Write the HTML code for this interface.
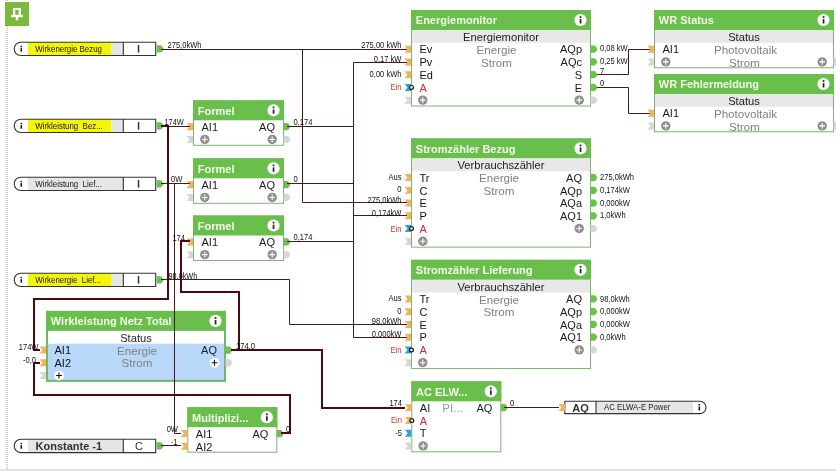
<!DOCTYPE html>
<html><head><meta charset="utf-8"><style>
html,body{margin:0;padding:0;background:#fff;width:836px;height:471px;overflow:hidden}
svg{position:absolute;left:0;top:0;font-family:"Liberation Sans", sans-serif;will-change:transform}
</style></head><body>
<svg width="836" height="471" viewBox="0 0 836 471">
<rect x="0" y="0" width="836" height="471" fill="#fff"/>
<line x1="7" y1="0" x2="7" y2="469" stroke="#cccccc" stroke-width="2" stroke-dasharray="1,1"/>
<rect x="0" y="469" width="836" height="2" fill="#e2e2e2"/>
<rect x="5" y="2" width="24" height="24" fill="#7dba3c"/>
<path d="M12,11 H22 V16.5 H12 Z M14.5,11 V8 H19.5 V11" fill="none"/>
<rect x="13" y="8" width="8" height="7.2" fill="#fff"/>
<rect x="15.2" y="9.8" width="3.4" height="5" fill="#7dba3c"/>
<rect x="11" y="15" width="12" height="2.2" fill="#fff"/>
<rect x="15.8" y="17" width="2.4" height="3.2" fill="#fff"/>
<rect x="411.5" y="10.5" width="179" height="95.5" fill="#fff" stroke="#7fb374" stroke-width="1"/><rect x="411" y="10" width="180" height="20" fill="#6abf4c"/><text x="415.80" y="20.30" font-size="11" fill="#f3fbe8" font-weight="bold" text-anchor="start" dominant-baseline="central" >Energiemonitor</text><circle cx="580.5" cy="20" r="6.1" fill="#fff"/><rect x="579.7" y="19.1" width="1.7" height="4.4" fill="#222"/><rect x="579.7" y="16.2" width="1.7" height="1.8" fill="#222"/><rect x="412" y="30" width="178" height="12.75" fill="#e8e8e8"/><text x="501.00" y="36.88" font-size="11.2" fill="#222" font-weight="normal" text-anchor="middle" dominant-baseline="central" >Energiemonitor</text><text x="419.50" y="49.42" font-size="11" fill="#111" font-weight="normal" text-anchor="start" dominant-baseline="central" >Ev</text><text x="582.00" y="49.42" font-size="11" fill="#1a1a1a" font-weight="normal" text-anchor="end" dominant-baseline="central" >AQp</text><text x="419.50" y="62.17" font-size="11" fill="#111" font-weight="normal" text-anchor="start" dominant-baseline="central" >Pv</text><text x="582.00" y="62.17" font-size="11" fill="#1a1a1a" font-weight="normal" text-anchor="end" dominant-baseline="central" >AQc</text><text x="419.50" y="74.92" font-size="11" fill="#111" font-weight="normal" text-anchor="start" dominant-baseline="central" >Ed</text><text x="582.00" y="74.92" font-size="11" fill="#1a1a1a" font-weight="normal" text-anchor="end" dominant-baseline="central" >S</text><text x="419.50" y="87.67" font-size="11" fill="#d42a2a" font-weight="normal" text-anchor="start" dominant-baseline="central" >A</text><text x="582.00" y="87.67" font-size="11" fill="#1a1a1a" font-weight="normal" text-anchor="end" dominant-baseline="central" >E</text><text x="496.50" y="49.42" font-size="11.6" fill="#808080" font-weight="normal" text-anchor="middle" dominant-baseline="central" >Energie</text><text x="496.50" y="62.17" font-size="11.6" fill="#808080" font-weight="normal" text-anchor="middle" dominant-baseline="central" >Strom</text><polygon points="404.5,45.625 411,45.625 411,52.625 404.5,52.625 407.5,49.125" fill="#f2b257"/><path d="M590.5,45.525 L594,45.525 Q595.2,45.525 596,46.725 L597,48.325 Q597.5,49.125 597,49.925 L596,51.525 Q595.2,52.725 594,52.725 L590.5,52.725 Z" fill="#6cc04f"/><polygon points="404.5,58.375 411,58.375 411,65.375 404.5,65.375 407.5,61.875" fill="#f2b257"/><path d="M590.5,58.275 L594,58.275 Q595.2,58.275 596,59.475 L597,61.075 Q597.5,61.875 597,62.675 L596,64.275 Q595.2,65.475 594,65.475 L590.5,65.475 Z" fill="#6cc04f"/><polygon points="404.5,71.125 411,71.125 411,78.125 404.5,78.125 407.5,74.625" fill="#f2b257"/><path d="M590.5,71.025 L594,71.025 Q595.2,71.025 596,72.225 L597,73.825 Q597.5,74.625 597,75.425 L596,77.025 Q595.2,78.225 594,78.225 L590.5,78.225 Z" fill="#6cc04f"/><polygon points="404.5,83.875 411,83.875 411,90.875 404.5,90.875 407.5,87.375" fill="#29a6d6"/><path d="M590.5,83.775 L594,83.775 Q595.2,83.775 596,84.975 L597,86.575 Q597.5,87.375 597,88.175 L596,89.775 Q595.2,90.975 594,90.975 L590.5,90.975 Z" fill="#6cc04f"/><polygon points="404.5,96.625 411,96.625 411,103.625 404.5,103.625 407.5,100.125" fill="#d6d6d6"/><path d="M590.5,96.525 L594,96.525 Q595.2,96.525 596,97.725 L597,99.325 Q597.5,100.125 597,100.925 L596,102.525 Q595.2,103.725 594,103.725 L590.5,103.725 Z" fill="#d6d6d6"/><circle cx="422.8" cy="100.125" r="4.7" fill="#8e8e8e"/><path d="M419.98,100.125 H425.62 M422.8,97.305 V102.945" stroke="#fff" stroke-width="1.1"/><circle cx="579.2" cy="100.125" r="4.7" fill="#8e8e8e"/><path d="M576.38,100.125 H582.0200000000001 M579.2,97.305 V102.945" stroke="#fff" stroke-width="1.1"/><rect x="654.5" y="10.5" width="179" height="57.25" fill="#fff" stroke="#7fb374" stroke-width="1"/><rect x="654" y="10" width="180" height="20" fill="#6abf4c"/><text x="658.80" y="20.30" font-size="11" fill="#f3fbe8" font-weight="bold" text-anchor="start" dominant-baseline="central" >WR Status</text><circle cx="823.5" cy="20" r="6.1" fill="#fff"/><rect x="822.7" y="19.1" width="1.7" height="4.4" fill="#222"/><rect x="822.7" y="16.2" width="1.7" height="1.8" fill="#222"/><rect x="655" y="30" width="178" height="12.75" fill="#e8e8e8"/><text x="744.00" y="36.88" font-size="11.2" fill="#222" font-weight="normal" text-anchor="middle" dominant-baseline="central" >Status</text><text x="662.50" y="49.42" font-size="11" fill="#1a1a1a" font-weight="normal" text-anchor="start" dominant-baseline="central" >AI1</text><text x="745.50" y="49.42" font-size="11.6" fill="#808080" font-weight="normal" text-anchor="middle" dominant-baseline="central" >Photovoltaik</text><text x="744.50" y="62.17" font-size="11.6" fill="#808080" font-weight="normal" text-anchor="middle" dominant-baseline="central" >Strom</text><polygon points="647.5,45.625 654,45.625 654,52.625 647.5,52.625 650.5,49.125" fill="#f2b257"/><polygon points="647.5,58.375 654,58.375 654,65.375 647.5,65.375 650.5,61.875" fill="#d6d6d6"/><path d="M833.5,58.275 L837,58.275 Q838.2,58.275 839,59.475 L840,61.075 Q840.5,61.875 840,62.675 L839,64.275 Q838.2,65.475 837,65.475 L833.5,65.475 Z" fill="#d6d6d6"/><circle cx="665.8" cy="61.875" r="4.7" fill="#8e8e8e"/><path d="M662.9799999999999,61.875 H668.62 M665.8,59.055 V64.695" stroke="#fff" stroke-width="1.1"/><circle cx="822.2" cy="61.875" r="4.7" fill="#8e8e8e"/><path d="M819.38,61.875 H825.0200000000001 M822.2,59.055 V64.695" stroke="#fff" stroke-width="1.1"/><rect x="654.5" y="74.5" width="179" height="57.25" fill="#fff" stroke="#7fb374" stroke-width="1"/><rect x="654" y="74" width="180" height="20" fill="#6abf4c"/><text x="658.80" y="84.30" font-size="11" fill="#f3fbe8" font-weight="bold" text-anchor="start" dominant-baseline="central" >WR Fehlermeldung</text><circle cx="823.5" cy="84" r="6.1" fill="#fff"/><rect x="822.7" y="83.1" width="1.7" height="4.4" fill="#222"/><rect x="822.7" y="80.2" width="1.7" height="1.8" fill="#222"/><rect x="655" y="94" width="178" height="12.75" fill="#e8e8e8"/><text x="744.00" y="100.88" font-size="11.2" fill="#222" font-weight="normal" text-anchor="middle" dominant-baseline="central" >Status</text><text x="662.50" y="113.42" font-size="11" fill="#1a1a1a" font-weight="normal" text-anchor="start" dominant-baseline="central" >AI1</text><text x="745.50" y="113.42" font-size="11.6" fill="#808080" font-weight="normal" text-anchor="middle" dominant-baseline="central" >Photovoltaik</text><text x="744.50" y="126.17" font-size="11.6" fill="#808080" font-weight="normal" text-anchor="middle" dominant-baseline="central" >Strom</text><polygon points="647.5,109.625 654,109.625 654,116.625 647.5,116.625 650.5,113.125" fill="#f2b257"/><polygon points="647.5,122.375 654,122.375 654,129.375 647.5,129.375 650.5,125.875" fill="#d6d6d6"/><path d="M833.5,122.275 L837,122.275 Q838.2,122.275 839,123.475 L840,125.075 Q840.5,125.875 840,126.675 L839,128.275 Q838.2,129.475 837,129.475 L833.5,129.475 Z" fill="#d6d6d6"/><circle cx="665.8" cy="125.875" r="4.7" fill="#8e8e8e"/><path d="M662.9799999999999,125.875 H668.62 M665.8,123.055 V128.695" stroke="#fff" stroke-width="1.1"/><circle cx="822.2" cy="125.875" r="4.7" fill="#8e8e8e"/><path d="M819.38,125.875 H825.0200000000001 M822.2,123.055 V128.695" stroke="#fff" stroke-width="1.1"/><rect x="193.5" y="100.8" width="90" height="44.5" fill="#fff" stroke="#7fb374" stroke-width="1"/><rect x="193" y="100.3" width="91" height="20" fill="#6abf4c"/><text x="197.80" y="110.60" font-size="11" fill="#f3fbe8" font-weight="bold" text-anchor="start" dominant-baseline="central" >Formel</text><circle cx="273.5" cy="110.3" r="6.1" fill="#fff"/><rect x="272.7" y="109.39999999999999" width="1.7" height="4.4" fill="#222"/><rect x="272.7" y="106.5" width="1.7" height="1.8" fill="#222"/><text x="201.50" y="126.97" font-size="11" fill="#1a1a1a" font-weight="normal" text-anchor="start" dominant-baseline="central" >AI1</text><text x="275.00" y="126.97" font-size="11" fill="#1a1a1a" font-weight="normal" text-anchor="end" dominant-baseline="central" >AQ</text><polygon points="186.5,123.175 193,123.175 193,130.175 186.5,130.175 189.5,126.675" fill="#f2b257"/><path d="M283.5,123.075 L287,123.075 Q288.2,123.075 289,124.27499999999999 L290,125.875 Q290.5,126.675 290,127.475 L289,129.075 Q288.2,130.275 287,130.275 L283.5,130.275 Z" fill="#6cc04f"/><polygon points="186.5,135.925 193,135.925 193,142.925 186.5,142.925 189.5,139.425" fill="#d6d6d6"/><path d="M283.5,135.82500000000002 L287,135.82500000000002 Q288.2,135.82500000000002 289,137.025 L290,138.625 Q290.5,139.425 290,140.22500000000002 L289,141.82500000000002 Q288.2,143.025 287,143.025 L283.5,143.025 Z" fill="#d6d6d6"/><circle cx="204.8" cy="139.425" r="4.7" fill="#8e8e8e"/><path d="M201.98000000000002,139.425 H207.62 M204.8,136.60500000000002 V142.245" stroke="#fff" stroke-width="1.1"/><circle cx="272.2" cy="139.425" r="4.7" fill="#8e8e8e"/><path d="M269.38,139.425 H275.02 M272.2,136.60500000000002 V142.245" stroke="#fff" stroke-width="1.1"/><rect x="193.5" y="158.8" width="90" height="44.5" fill="#fff" stroke="#7fb374" stroke-width="1"/><rect x="193" y="158.3" width="91" height="20" fill="#6abf4c"/><text x="197.80" y="168.60" font-size="11" fill="#f3fbe8" font-weight="bold" text-anchor="start" dominant-baseline="central" >Formel</text><circle cx="273.5" cy="168.3" r="6.1" fill="#fff"/><rect x="272.7" y="167.4" width="1.7" height="4.4" fill="#222"/><rect x="272.7" y="164.5" width="1.7" height="1.8" fill="#222"/><text x="201.50" y="184.98" font-size="11" fill="#1a1a1a" font-weight="normal" text-anchor="start" dominant-baseline="central" >AI1</text><text x="275.00" y="184.98" font-size="11" fill="#1a1a1a" font-weight="normal" text-anchor="end" dominant-baseline="central" >AQ</text><polygon points="186.5,181.175 193,181.175 193,188.175 186.5,188.175 189.5,184.675" fill="#f2b257"/><path d="M283.5,181.07500000000002 L287,181.07500000000002 Q288.2,181.07500000000002 289,182.275 L290,183.875 Q290.5,184.675 290,185.47500000000002 L289,187.07500000000002 Q288.2,188.275 287,188.275 L283.5,188.275 Z" fill="#6cc04f"/><polygon points="186.5,193.925 193,193.925 193,200.925 186.5,200.925 189.5,197.425" fill="#d6d6d6"/><path d="M283.5,193.82500000000002 L287,193.82500000000002 Q288.2,193.82500000000002 289,195.025 L290,196.625 Q290.5,197.425 290,198.22500000000002 L289,199.82500000000002 Q288.2,201.025 287,201.025 L283.5,201.025 Z" fill="#d6d6d6"/><circle cx="204.8" cy="197.425" r="4.7" fill="#8e8e8e"/><path d="M201.98000000000002,197.425 H207.62 M204.8,194.60500000000002 V200.245" stroke="#fff" stroke-width="1.1"/><circle cx="272.2" cy="197.425" r="4.7" fill="#8e8e8e"/><path d="M269.38,197.425 H275.02 M272.2,194.60500000000002 V200.245" stroke="#fff" stroke-width="1.1"/><rect x="193.5" y="216.0" width="90" height="44.5" fill="#fff" stroke="#7fb374" stroke-width="1"/><rect x="193" y="215.5" width="91" height="20" fill="#6abf4c"/><text x="197.80" y="225.80" font-size="11" fill="#f3fbe8" font-weight="bold" text-anchor="start" dominant-baseline="central" >Formel</text><circle cx="273.5" cy="225.5" r="6.1" fill="#fff"/><rect x="272.7" y="224.6" width="1.7" height="4.4" fill="#222"/><rect x="272.7" y="221.7" width="1.7" height="1.8" fill="#222"/><text x="201.50" y="242.18" font-size="11" fill="#1a1a1a" font-weight="normal" text-anchor="start" dominant-baseline="central" >AI1</text><text x="275.00" y="242.18" font-size="11" fill="#1a1a1a" font-weight="normal" text-anchor="end" dominant-baseline="central" >AQ</text><polygon points="186.5,238.375 193,238.375 193,245.375 186.5,245.375 189.5,241.875" fill="#f2b257"/><path d="M283.5,238.275 L287,238.275 Q288.2,238.275 289,239.475 L290,241.075 Q290.5,241.875 290,242.675 L289,244.275 Q288.2,245.475 287,245.475 L283.5,245.475 Z" fill="#6cc04f"/><polygon points="186.5,251.125 193,251.125 193,258.125 186.5,258.125 189.5,254.625" fill="#d6d6d6"/><path d="M283.5,251.025 L287,251.025 Q288.2,251.025 289,252.225 L290,253.825 Q290.5,254.625 290,255.425 L289,257.025 Q288.2,258.225 287,258.225 L283.5,258.225 Z" fill="#d6d6d6"/><circle cx="204.8" cy="254.625" r="4.7" fill="#8e8e8e"/><path d="M201.98000000000002,254.625 H207.62 M204.8,251.805 V257.445" stroke="#fff" stroke-width="1.1"/><circle cx="272.2" cy="254.625" r="4.7" fill="#8e8e8e"/><path d="M269.38,254.625 H275.02 M272.2,251.805 V257.445" stroke="#fff" stroke-width="1.1"/><rect x="411.5" y="138.9" width="179" height="108.25" fill="#fff" stroke="#7fb374" stroke-width="1"/><rect x="411" y="138.4" width="180" height="20" fill="#6abf4c"/><text x="415.80" y="148.70" font-size="11" fill="#f3fbe8" font-weight="bold" text-anchor="start" dominant-baseline="central" >Stromzähler Bezug</text><circle cx="580.5" cy="148.4" r="6.1" fill="#fff"/><rect x="579.7" y="147.5" width="1.7" height="4.4" fill="#222"/><rect x="579.7" y="144.6" width="1.7" height="1.8" fill="#222"/><rect x="412" y="158.4" width="178" height="12.75" fill="#e8e8e8"/><text x="501.00" y="165.28" font-size="11.2" fill="#222" font-weight="normal" text-anchor="middle" dominant-baseline="central" >Verbrauchszähler</text><text x="419.50" y="177.83" font-size="11" fill="#111" font-weight="normal" text-anchor="start" dominant-baseline="central" >Tr</text><text x="582.00" y="177.83" font-size="11" fill="#1a1a1a" font-weight="normal" text-anchor="end" dominant-baseline="central" >AQ</text><text x="419.50" y="190.58" font-size="11" fill="#111" font-weight="normal" text-anchor="start" dominant-baseline="central" >C</text><text x="582.00" y="190.58" font-size="11" fill="#1a1a1a" font-weight="normal" text-anchor="end" dominant-baseline="central" >AQp</text><text x="419.50" y="203.33" font-size="11" fill="#111" font-weight="normal" text-anchor="start" dominant-baseline="central" >E</text><text x="582.00" y="203.33" font-size="11" fill="#1a1a1a" font-weight="normal" text-anchor="end" dominant-baseline="central" >AQa</text><text x="419.50" y="216.08" font-size="11" fill="#111" font-weight="normal" text-anchor="start" dominant-baseline="central" >P</text><text x="582.00" y="216.08" font-size="11" fill="#1a1a1a" font-weight="normal" text-anchor="end" dominant-baseline="central" >AQ1</text><text x="419.50" y="228.83" font-size="11" fill="#d42a2a" font-weight="normal" text-anchor="start" dominant-baseline="central" >A</text><text x="499.00" y="177.83" font-size="11.6" fill="#808080" font-weight="normal" text-anchor="middle" dominant-baseline="central" >Energie</text><text x="499.00" y="190.58" font-size="11.6" fill="#808080" font-weight="normal" text-anchor="middle" dominant-baseline="central" >Strom</text><polygon points="404.5,174.025 411,174.025 411,181.025 404.5,181.025 407.5,177.525" fill="#f2b257"/><path d="M590.5,173.925 L594,173.925 Q595.2,173.925 596,175.125 L597,176.725 Q597.5,177.525 597,178.32500000000002 L596,179.925 Q595.2,181.125 594,181.125 L590.5,181.125 Z" fill="#6cc04f"/><polygon points="404.5,186.775 411,186.775 411,193.775 404.5,193.775 407.5,190.275" fill="#f2b257"/><path d="M590.5,186.675 L594,186.675 Q595.2,186.675 596,187.875 L597,189.475 Q597.5,190.275 597,191.07500000000002 L596,192.675 Q595.2,193.875 594,193.875 L590.5,193.875 Z" fill="#6cc04f"/><polygon points="404.5,199.525 411,199.525 411,206.525 404.5,206.525 407.5,203.025" fill="#f2b257"/><path d="M590.5,199.425 L594,199.425 Q595.2,199.425 596,200.625 L597,202.225 Q597.5,203.025 597,203.82500000000002 L596,205.425 Q595.2,206.625 594,206.625 L590.5,206.625 Z" fill="#6cc04f"/><polygon points="404.5,212.275 411,212.275 411,219.275 404.5,219.275 407.5,215.775" fill="#f2b257"/><path d="M590.5,212.175 L594,212.175 Q595.2,212.175 596,213.375 L597,214.975 Q597.5,215.775 597,216.57500000000002 L596,218.175 Q595.2,219.375 594,219.375 L590.5,219.375 Z" fill="#6cc04f"/><polygon points="404.5,225.025 411,225.025 411,232.025 404.5,232.025 407.5,228.525" fill="#29a6d6"/><path d="M590.5,224.925 L594,224.925 Q595.2,224.925 596,226.125 L597,227.725 Q597.5,228.525 597,229.32500000000002 L596,230.925 Q595.2,232.125 594,232.125 L590.5,232.125 Z" fill="#d6d6d6"/><circle cx="579.2" cy="228.525" r="4.7" fill="#8e8e8e"/><path d="M576.38,228.525 H582.0200000000001 M579.2,225.705 V231.345" stroke="#fff" stroke-width="1.1"/><polygon points="404.5,237.775 411,237.775 411,244.775 404.5,244.775 407.5,241.275" fill="#d6d6d6"/><circle cx="422.8" cy="241.275" r="4.7" fill="#8e8e8e"/><path d="M419.98,241.275 H425.62 M422.8,238.455 V244.095" stroke="#fff" stroke-width="1.1"/><rect x="411.5" y="260.3" width="179" height="108.25" fill="#fff" stroke="#7fb374" stroke-width="1"/><rect x="411" y="259.8" width="180" height="20" fill="#6abf4c"/><text x="415.80" y="270.10" font-size="11" fill="#f3fbe8" font-weight="bold" text-anchor="start" dominant-baseline="central" >Stromzähler Lieferung</text><circle cx="580.5" cy="269.8" r="6.1" fill="#fff"/><rect x="579.7" y="268.90000000000003" width="1.7" height="4.4" fill="#222"/><rect x="579.7" y="266.0" width="1.7" height="1.8" fill="#222"/><rect x="412" y="279.8" width="178" height="12.75" fill="#e8e8e8"/><text x="501.00" y="286.68" font-size="11.2" fill="#222" font-weight="normal" text-anchor="middle" dominant-baseline="central" >Verbrauchszähler</text><text x="419.50" y="299.23" font-size="11" fill="#111" font-weight="normal" text-anchor="start" dominant-baseline="central" >Tr</text><text x="582.00" y="299.23" font-size="11" fill="#1a1a1a" font-weight="normal" text-anchor="end" dominant-baseline="central" >AQ</text><text x="419.50" y="311.98" font-size="11" fill="#111" font-weight="normal" text-anchor="start" dominant-baseline="central" >C</text><text x="582.00" y="311.98" font-size="11" fill="#1a1a1a" font-weight="normal" text-anchor="end" dominant-baseline="central" >AQp</text><text x="419.50" y="324.73" font-size="11" fill="#111" font-weight="normal" text-anchor="start" dominant-baseline="central" >E</text><text x="582.00" y="324.73" font-size="11" fill="#1a1a1a" font-weight="normal" text-anchor="end" dominant-baseline="central" >AQa</text><text x="419.50" y="337.48" font-size="11" fill="#111" font-weight="normal" text-anchor="start" dominant-baseline="central" >P</text><text x="582.00" y="337.48" font-size="11" fill="#1a1a1a" font-weight="normal" text-anchor="end" dominant-baseline="central" >AQ1</text><text x="419.50" y="350.23" font-size="11" fill="#d42a2a" font-weight="normal" text-anchor="start" dominant-baseline="central" >A</text><text x="499.00" y="299.23" font-size="11.6" fill="#808080" font-weight="normal" text-anchor="middle" dominant-baseline="central" >Energie</text><text x="499.00" y="311.98" font-size="11.6" fill="#808080" font-weight="normal" text-anchor="middle" dominant-baseline="central" >Strom</text><polygon points="404.5,295.425 411,295.425 411,302.425 404.5,302.425 407.5,298.925" fill="#f2b257"/><path d="M590.5,295.325 L594,295.325 Q595.2,295.325 596,296.52500000000003 L597,298.125 Q597.5,298.925 597,299.725 L596,301.325 Q595.2,302.52500000000003 594,302.52500000000003 L590.5,302.52500000000003 Z" fill="#6cc04f"/><polygon points="404.5,308.175 411,308.175 411,315.175 404.5,315.175 407.5,311.675" fill="#f2b257"/><path d="M590.5,308.075 L594,308.075 Q595.2,308.075 596,309.27500000000003 L597,310.875 Q597.5,311.675 597,312.475 L596,314.075 Q595.2,315.27500000000003 594,315.27500000000003 L590.5,315.27500000000003 Z" fill="#6cc04f"/><polygon points="404.5,320.925 411,320.925 411,327.925 404.5,327.925 407.5,324.425" fill="#f2b257"/><path d="M590.5,320.825 L594,320.825 Q595.2,320.825 596,322.02500000000003 L597,323.625 Q597.5,324.425 597,325.225 L596,326.825 Q595.2,328.02500000000003 594,328.02500000000003 L590.5,328.02500000000003 Z" fill="#6cc04f"/><polygon points="404.5,333.675 411,333.675 411,340.675 404.5,340.675 407.5,337.175" fill="#f2b257"/><path d="M590.5,333.575 L594,333.575 Q595.2,333.575 596,334.77500000000003 L597,336.375 Q597.5,337.175 597,337.975 L596,339.575 Q595.2,340.77500000000003 594,340.77500000000003 L590.5,340.77500000000003 Z" fill="#6cc04f"/><polygon points="404.5,346.425 411,346.425 411,353.425 404.5,353.425 407.5,349.925" fill="#29a6d6"/><path d="M590.5,346.325 L594,346.325 Q595.2,346.325 596,347.52500000000003 L597,349.125 Q597.5,349.925 597,350.725 L596,352.325 Q595.2,353.52500000000003 594,353.52500000000003 L590.5,353.52500000000003 Z" fill="#d6d6d6"/><circle cx="579.2" cy="349.925" r="4.7" fill="#8e8e8e"/><path d="M576.38,349.925 H582.0200000000001 M579.2,347.105 V352.745" stroke="#fff" stroke-width="1.1"/><polygon points="404.5,359.175 411,359.175 411,366.175 404.5,366.175 407.5,362.675" fill="#d6d6d6"/><circle cx="422.8" cy="362.675" r="4.7" fill="#8e8e8e"/><path d="M419.98,362.675 H425.62 M422.8,359.855 V365.495" stroke="#fff" stroke-width="1.1"/><rect x="47.0" y="311.9" width="178" height="69.0" fill="#b9d8f9" stroke="#70b866" stroke-width="2"/><rect x="46" y="310.9" width="180" height="20" fill="#6abf4c"/><text x="50.80" y="320.90" font-size="11" fill="#f3fbe8" font-weight="bold" text-anchor="start" dominant-baseline="central" >Wirkleistung Netz Total</text><circle cx="215.5" cy="320.9" r="6.1" fill="#fff"/><rect x="214.7" y="320.0" width="1.7" height="4.4" fill="#222"/><rect x="214.7" y="317.09999999999997" width="1.7" height="1.8" fill="#222"/><rect x="48" y="330.9" width="176" height="12.75" fill="#ffffff"/><text x="136.00" y="337.77" font-size="11.2" fill="#222" font-weight="normal" text-anchor="middle" dominant-baseline="central" >Status</text><text x="54.50" y="350.32" font-size="11" fill="#111" font-weight="normal" text-anchor="start" dominant-baseline="central" >AI1</text><text x="217.00" y="350.32" font-size="11" fill="#1a1a1a" font-weight="normal" text-anchor="end" dominant-baseline="central" >AQ</text><text x="54.50" y="363.07" font-size="11" fill="#111" font-weight="normal" text-anchor="start" dominant-baseline="central" >AI2</text><text x="137.00" y="350.02" font-size="11.6" fill="#808080" font-weight="normal" text-anchor="middle" dominant-baseline="central" >Energie</text><text x="137.00" y="362.77" font-size="11.6" fill="#808080" font-weight="normal" text-anchor="middle" dominant-baseline="central" >Strom</text><polygon points="39.5,346.525 46,346.525 46,353.525 39.5,353.525 42.5,350.025" fill="#f2b257"/><polygon points="39.5,359.275 46,359.275 46,366.275 39.5,366.275 42.5,362.775" fill="#f2b257"/><polygon points="39.5,372.025 46,372.025 46,379.025 39.5,379.025 42.5,375.525" fill="#d6d6d6"/><path d="M225.5,346.42499999999995 L229,346.42499999999995 Q230.2,346.42499999999995 231,347.625 L232,349.22499999999997 Q232.5,350.025 232,350.825 L231,352.42499999999995 Q230.2,353.625 229,353.625 L225.5,353.625 Z" fill="#6cc04f"/><path d="M225.5,359.17499999999995 L229,359.17499999999995 Q230.2,359.17499999999995 231,360.375 L232,361.97499999999997 Q232.5,362.775 232,363.575 L231,365.17499999999995 Q230.2,366.375 229,366.375 L225.5,366.375 Z" fill="#d6d6d6"/><circle cx="214.5" cy="362.775" r="4.9" fill="#fff"/><path d="M211.56,362.775 H217.44 M214.5,359.835 V365.715" stroke="#111" stroke-width="1.1"/><circle cx="59" cy="375.525" r="4.9" fill="#fff"/><path d="M56.06,375.525 H61.94 M59,372.585 V378.465" stroke="#111" stroke-width="1.1"/><rect x="187.8" y="407.7" width="89" height="44.5" fill="#fff" stroke="#7fb374" stroke-width="1"/><rect x="187.3" y="407.2" width="90" height="20" fill="#6abf4c"/><text x="192.10" y="417.50" font-size="11" fill="#f3fbe8" font-weight="bold" text-anchor="start" dominant-baseline="central" >Multiplizi...</text><circle cx="266.8" cy="417.2" r="6.1" fill="#fff"/><rect x="266.0" y="416.3" width="1.7" height="4.4" fill="#222"/><rect x="266.0" y="413.4" width="1.7" height="1.8" fill="#222"/><text x="195.80" y="433.88" font-size="11" fill="#1a1a1a" font-weight="normal" text-anchor="start" dominant-baseline="central" >AI1</text><text x="268.30" y="433.88" font-size="11" fill="#1a1a1a" font-weight="normal" text-anchor="end" dominant-baseline="central" >AQ</text><text x="195.80" y="446.62" font-size="11" fill="#1a1a1a" font-weight="normal" text-anchor="start" dominant-baseline="central" >AI2</text><polygon points="180.8,430.075 187.3,430.075 187.3,437.075 180.8,437.075 183.8,433.575" fill="#f2b257"/><polygon points="180.8,442.825 187.3,442.825 187.3,449.825 180.8,449.825 183.8,446.325" fill="#f2b257"/><path d="M276.8,429.97499999999997 L280.3,429.97499999999997 Q281.5,429.97499999999997 282.3,431.175 L283.3,432.775 Q283.8,433.575 283.3,434.375 L282.3,435.97499999999997 Q281.5,437.175 280.3,437.175 L276.8,437.175 Z" fill="#6cc04f"/><rect x="411.8" y="381.8" width="89" height="70.0" fill="#fff" stroke="#7fb374" stroke-width="1"/><rect x="411.3" y="381.3" width="90" height="20" fill="#6abf4c"/><text x="416.10" y="391.60" font-size="11" fill="#f3fbe8" font-weight="bold" text-anchor="start" dominant-baseline="central" >AC ELW...</text><circle cx="490.8" cy="391.3" r="6.1" fill="#fff"/><rect x="490.0" y="390.40000000000003" width="1.7" height="4.4" fill="#222"/><rect x="490.0" y="387.5" width="1.7" height="1.8" fill="#222"/><text x="419.80" y="407.98" font-size="11" fill="#1a1a1a" font-weight="normal" text-anchor="start" dominant-baseline="central" >AI</text><text x="492.30" y="407.98" font-size="11" fill="#1a1a1a" font-weight="normal" text-anchor="end" dominant-baseline="central" >AQ</text><text x="442.30" y="407.98" font-size="11.6" fill="#959595" font-weight="normal" text-anchor="start" dominant-baseline="central" >PI...</text><text x="419.80" y="420.73" font-size="11" fill="#d42a2a" font-weight="normal" text-anchor="start" dominant-baseline="central" >A</text><text x="419.80" y="433.48" font-size="11" fill="#1a1a1a" font-weight="normal" text-anchor="start" dominant-baseline="central" >T</text><polygon points="404.8,404.175 411.3,404.175 411.3,411.175 404.8,411.175 407.8,407.675" fill="#f2b257"/><polygon points="404.8,416.925 411.3,416.925 411.3,423.925 404.8,423.925 407.8,420.425" fill="#f2b257"/><polygon points="404.8,429.675 411.3,429.675 411.3,436.675 404.8,436.675 407.8,433.175" fill="#29a6d6"/><polygon points="404.8,442.425 411.3,442.425 411.3,449.425 404.8,449.425 407.8,445.925" fill="#d6d6d6"/><path d="M500.8,404.075 L504.3,404.075 Q505.5,404.075 506.3,405.27500000000003 L507.3,406.875 Q507.8,407.675 507.3,408.475 L506.3,410.075 Q505.5,411.27500000000003 504.3,411.27500000000003 L500.8,411.27500000000003 Z" fill="#6cc04f"/><circle cx="423.1" cy="445.925" r="4.7" fill="#8e8e8e"/><path d="M420.28000000000003,445.925 H425.92 M423.1,443.105 V448.745" stroke="#fff" stroke-width="1.1"/><path d="M20.85,42.2 H155.7 V55.5 H20.85 A6.65,6.65 0 0 1 20.85,42.2Z" fill="#fff"/><rect x="27.8" y="42.2" width="83.7" height="13.3" fill="#f5f50a"/><rect x="111.5" y="42.2" width="11.799999999999997" height="13.3" fill="#e6e6e6"/><path d="M20.85,42.2 H155.7 V55.5 H20.85 A6.65,6.65 0 0 1 20.85,42.2Z M123.3,42.2 V55.5" fill="none" stroke="#333" stroke-width="1.1"/><rect x="20.5" y="48.15" width="1.5" height="3.5" fill="#111"/><rect x="20.5" y="45.85" width="1.5" height="1.4" fill="#111"/><text transform="translate(35.3,49.25) scale(0.93,1)" font-size="8.5" fill="#151515" dominant-baseline="central" style="white-space:pre">Wirkenergie Bezug</text><rect x="137.8" y="45.050000000000004" width="1.5" height="7.6" fill="#333"/><path d="M156.7,45.25 L160.2,45.25 Q161.39999999999998,45.25 162.2,46.45 L163.2,48.050000000000004 Q163.7,48.85 163.2,49.65 L162.2,51.25 Q161.39999999999998,52.45 160.2,52.45 L156.7,52.45 Z" fill="#6cc04f"/><path d="M20.85,119.2 H155.7 V132.5 H20.85 A6.65,6.65 0 0 1 20.85,119.2Z" fill="#fff"/><rect x="27.8" y="119.2" width="83.7" height="13.3" fill="#f5f50a"/><rect x="111.5" y="119.2" width="11.799999999999997" height="13.3" fill="#e6e6e6"/><path d="M20.85,119.2 H155.7 V132.5 H20.85 A6.65,6.65 0 0 1 20.85,119.2Z M123.3,119.2 V132.5" fill="none" stroke="#333" stroke-width="1.1"/><rect x="20.5" y="125.15" width="1.5" height="3.5" fill="#111"/><rect x="20.5" y="122.85000000000001" width="1.5" height="1.4" fill="#111"/><text transform="translate(35.3,126.25) scale(0.93,1)" font-size="8.5" fill="#151515" dominant-baseline="central" style="white-space:pre">Wirkleistung  Bez...</text><rect x="137.8" y="122.05000000000001" width="1.5" height="7.6" fill="#333"/><path d="M156.7,122.25000000000001 L160.2,122.25000000000001 Q161.39999999999998,122.25000000000001 162.2,123.45 L163.2,125.05000000000001 Q163.7,125.85000000000001 163.2,126.65 L162.2,128.25 Q161.39999999999998,129.45000000000002 160.2,129.45000000000002 L156.7,129.45000000000002 Z" fill="#6cc04f"/><path d="M20.85,177.2 H155.7 V190.5 H20.85 A6.65,6.65 0 0 1 20.85,177.2Z" fill="#fff"/><rect x="27.8" y="177.2" width="95.5" height="13.3" fill="#e6e6e6"/><path d="M20.85,177.2 H155.7 V190.5 H20.85 A6.65,6.65 0 0 1 20.85,177.2Z M123.3,177.2 V190.5" fill="none" stroke="#333" stroke-width="1.1"/><rect x="20.5" y="183.15" width="1.5" height="3.5" fill="#111"/><rect x="20.5" y="180.85" width="1.5" height="1.4" fill="#111"/><text transform="translate(35.3,184.25) scale(0.93,1)" font-size="8.5" fill="#151515" dominant-baseline="central" style="white-space:pre">Wirkleistung  Lief...</text><rect x="137.8" y="180.04999999999998" width="1.5" height="7.6" fill="#333"/><path d="M156.7,180.25 L160.2,180.25 Q161.39999999999998,180.25 162.2,181.45 L163.2,183.04999999999998 Q163.7,183.85 163.2,184.65 L162.2,186.25 Q161.39999999999998,187.45 160.2,187.45 L156.7,187.45 Z" fill="#6cc04f"/><path d="M20.85,273.2 H155.7 V286.5 H20.85 A6.65,6.65 0 0 1 20.85,273.2Z" fill="#fff"/><rect x="27.8" y="273.2" width="83.7" height="13.3" fill="#f5f50a"/><rect x="111.5" y="273.2" width="11.799999999999997" height="13.3" fill="#e6e6e6"/><path d="M20.85,273.2 H155.7 V286.5 H20.85 A6.65,6.65 0 0 1 20.85,273.2Z M123.3,273.2 V286.5" fill="none" stroke="#333" stroke-width="1.1"/><rect x="20.5" y="279.15" width="1.5" height="3.5" fill="#111"/><rect x="20.5" y="276.84999999999997" width="1.5" height="1.4" fill="#111"/><text transform="translate(35.3,280.25) scale(0.93,1)" font-size="8.5" fill="#151515" dominant-baseline="central" style="white-space:pre">Wirkenergie  Lief...</text><rect x="137.8" y="276.04999999999995" width="1.5" height="7.6" fill="#333"/><path d="M156.7,276.24999999999994 L160.2,276.24999999999994 Q161.39999999999998,276.24999999999994 162.2,277.45 L163.2,279.04999999999995 Q163.7,279.84999999999997 163.2,280.65 L162.2,282.24999999999994 Q161.39999999999998,283.45 160.2,283.45 L156.7,283.45 Z" fill="#6cc04f"/><path d="M20.85,439.3 H155.7 V452.6 H20.85 A6.65,6.65 0 0 1 20.85,439.3Z" fill="#fff"/><rect x="27.8" y="439.3" width="95.5" height="13.3" fill="#e6e6e6"/><path d="M20.85,439.3 H155.7 V452.6 H20.85 A6.65,6.65 0 0 1 20.85,439.3Z M123.3,439.3 V452.6" fill="none" stroke="#333" stroke-width="1.1"/><rect x="20.5" y="445.25" width="1.5" height="3.5" fill="#111"/><rect x="20.5" y="442.95" width="1.5" height="1.4" fill="#111"/><text x="35.50" y="446.25" font-size="11" fill="#333" font-weight="bold" text-anchor="start" dominant-baseline="central" >Konstante -1</text><text x="139.00" y="446.45" font-size="11" fill="#333" font-weight="normal" text-anchor="middle" dominant-baseline="central" >C</text><path d="M156.7,442.34999999999997 L160.2,442.34999999999997 Q161.39999999999998,442.34999999999997 162.2,443.55 L163.2,445.15 Q163.7,445.95 163.2,446.75 L162.2,448.34999999999997 Q161.39999999999998,449.55 160.2,449.55 L156.7,449.55 Z" fill="#6cc04f"/><rect x="596" y="401.3" width="97" height="12.3" fill="#e6e6e6"/><path d="M564.8,401.3 H699.85 A6.15,6.15 0 0 1 699.85,413.6 H564.8 Z M596,401.3 V413.6" fill="none" stroke="#333" stroke-width="1.1"/><text x="580.50" y="407.95" font-size="11" fill="#333" font-weight="bold" text-anchor="middle" dominant-baseline="central" >AQ</text><text transform="translate(604,407.25) scale(0.92,1)" font-size="8.5" fill="#222" dominant-baseline="central">AC ELWA-E Power</text><rect x="698.5" y="406.55" width="1.6" height="3.9" fill="#111"/><rect x="698.5" y="403.95" width="1.6" height="1.6" fill="#111"/><polygon points="558.5,403.95 565,403.95 565,410.95 558.5,410.95 561.5,407.45" fill="#f2b257"/>
<path d="M161,49.5 L407,49.5" fill="none" stroke="#461a1a" stroke-width="1"/><path d="M302.5,49.5 L302.5,202.5 L407,202.5" fill="none" stroke="#461a1a" stroke-width="1"/><path d="M353.5,62.5 L407,62.5" fill="none" stroke="#461a1a" stroke-width="1"/><path d="M353.5,62.5 L353.5,337.5 L407,337.5" fill="none" stroke="#461a1a" stroke-width="1"/><path d="M287,126.5 L353.5,126.5" fill="none" stroke="#461a1a" stroke-width="1"/><path d="M287,183.5 L353.5,183.5" fill="none" stroke="#461a1a" stroke-width="1"/><path d="M287,241.5 L353.5,241.5" fill="none" stroke="#461a1a" stroke-width="1"/><path d="M353.5,215.5 L407,215.5" fill="none" stroke="#461a1a" stroke-width="1"/><path d="M597,74.5 L628.5,74.5 L628.5,49.5 L650,49.5" fill="none" stroke="#461a1a" stroke-width="1"/><path d="M597,87.5 L628.5,87.5 L628.5,113.5 L650,113.5" fill="none" stroke="#461a1a" stroke-width="1"/><path d="M161,279.5 L289.5,279.5 L289.5,324.5 L407,324.5" fill="none" stroke="#461a1a" stroke-width="1"/><path d="M161,183.5 L190,183.5" fill="none" stroke="#461a1a" stroke-width="1"/><path d="M174.5,183.5 L174.5,433.5 L181,433.5" fill="none" stroke="#461a1a" stroke-width="1"/><path d="M161,445.5 L181,445.5" fill="none" stroke="#461a1a" stroke-width="1"/><path d="M504,407.5 L559,407.5" fill="none" stroke="#461a1a" stroke-width="1"/><path d="M161,126 L169,126" fill="none" stroke="#4e0a0a" stroke-width="2"/><path d="M168,126.5 L190,126.5" fill="none" stroke="#461a1a" stroke-width="1"/><path d="M168,125 L168,299 L34,299 L34,350 L40,350" fill="none" stroke="#4e0a0a" stroke-width="2"/><path d="M40,363 L34,363 L34,395 L290,395 L290,433 L281,433" fill="none" stroke="#4e0a0a" stroke-width="2"/><path d="M231,350 L239,350 L239,292 L181,292 L181,241 L190,241" fill="none" stroke="#4e0a0a" stroke-width="2"/><path d="M239,350 L322,350 L322,408 L405,408" fill="none" stroke="#4e0a0a" stroke-width="2"/>
<text transform="translate(167.5,45.30) scale(0.89,1)" font-size="8.5" fill="#111" text-anchor="start" dominant-baseline="central">275,0kWh</text><text transform="translate(401.5,45.30) scale(0.89,1)" font-size="8.5" fill="#111" text-anchor="end" dominant-baseline="central">275,00 kWh</text><text transform="translate(401.5,59.00) scale(0.89,1)" font-size="8.5" fill="#111" text-anchor="end" dominant-baseline="central">0,17 kW</text><text transform="translate(401.5,74.80) scale(0.89,1)" font-size="8.5" fill="#111" text-anchor="end" dominant-baseline="central">0,00 kWh</text><text transform="translate(401.5,87.80) scale(0.89,1)" font-size="8.5" fill="#d43030" text-anchor="end" dominant-baseline="central">Ein</text><text transform="translate(600,48.80) scale(0.89,1)" font-size="8.5" fill="#111" text-anchor="start" dominant-baseline="central">0,08 kW</text><text transform="translate(600,61.80) scale(0.89,1)" font-size="8.5" fill="#111" text-anchor="start" dominant-baseline="central">0,25 kW</text><text transform="translate(600,71.60) scale(0.89,1)" font-size="8.5" fill="#111" text-anchor="start" dominant-baseline="central">7</text><text transform="translate(600,83.80) scale(0.89,1)" font-size="8.5" fill="#111" text-anchor="start" dominant-baseline="central">0</text><text transform="translate(164.5,122.80) scale(0.87,1)" font-size="8.5" fill="#111" text-anchor="start" dominant-baseline="central">174W</text><text transform="translate(171,179.80) scale(0.89,1)" font-size="8.5" fill="#111" text-anchor="start" dominant-baseline="central">0W</text><text transform="translate(185,238.20) scale(0.89,1)" font-size="8.5" fill="#111" text-anchor="end" dominant-baseline="central">174</text><text transform="translate(293.5,122.80) scale(0.89,1)" font-size="8.5" fill="#111" text-anchor="start" dominant-baseline="central">0,174</text><text transform="translate(293.5,179.80) scale(0.89,1)" font-size="8.5" fill="#111" text-anchor="start" dominant-baseline="central">0</text><text transform="translate(293.5,237.80) scale(0.89,1)" font-size="8.5" fill="#111" text-anchor="start" dominant-baseline="central">0,174</text><text transform="translate(168.5,276.10) scale(0.86,1)" font-size="8.5" fill="#111" text-anchor="start" dominant-baseline="central">98,0kWh</text><text transform="translate(401.5,177.43) scale(0.89,1)" font-size="8.5" fill="#111" text-anchor="end" dominant-baseline="central">Aus</text><text transform="translate(401.5,189.68) scale(0.89,1)" font-size="8.5" fill="#111" text-anchor="end" dominant-baseline="central">0</text><text transform="translate(401.5,200.33) scale(0.89,1)" font-size="8.5" fill="#111" text-anchor="end" dominant-baseline="central">275,0kWh</text><text transform="translate(401.5,213.08) scale(0.89,1)" font-size="8.5" fill="#111" text-anchor="end" dominant-baseline="central">0,174kW</text><text transform="translate(401.5,229.33) scale(0.89,1)" font-size="8.5" fill="#d43030" text-anchor="end" dominant-baseline="central">Ein</text><text transform="translate(600,177.53) scale(0.89,1)" font-size="8.5" fill="#111" text-anchor="start" dominant-baseline="central">275,0kWh</text><text transform="translate(600,190.28) scale(0.89,1)" font-size="8.5" fill="#111" text-anchor="start" dominant-baseline="central">0,174kW</text><text transform="translate(600,203.03) scale(0.89,1)" font-size="8.5" fill="#111" text-anchor="start" dominant-baseline="central">0,000kW</text><text transform="translate(600,215.78) scale(0.89,1)" font-size="8.5" fill="#111" text-anchor="start" dominant-baseline="central">1,0kWh</text><text transform="translate(401.5,298.83) scale(0.89,1)" font-size="8.5" fill="#111" text-anchor="end" dominant-baseline="central">Aus</text><text transform="translate(401.5,311.08) scale(0.89,1)" font-size="8.5" fill="#111" text-anchor="end" dominant-baseline="central">0</text><text transform="translate(401.5,321.73) scale(0.89,1)" font-size="8.5" fill="#111" text-anchor="end" dominant-baseline="central">98,0kWh</text><text transform="translate(401.5,334.48) scale(0.89,1)" font-size="8.5" fill="#111" text-anchor="end" dominant-baseline="central">0,000kW</text><text transform="translate(401.5,350.73) scale(0.89,1)" font-size="8.5" fill="#d43030" text-anchor="end" dominant-baseline="central">Ein</text><text transform="translate(600,298.93) scale(0.89,1)" font-size="8.5" fill="#111" text-anchor="start" dominant-baseline="central">98,0kWh</text><text transform="translate(600,311.68) scale(0.89,1)" font-size="8.5" fill="#111" text-anchor="start" dominant-baseline="central">0,000kW</text><text transform="translate(600,324.43) scale(0.89,1)" font-size="8.5" fill="#111" text-anchor="start" dominant-baseline="central">0,000kW</text><text transform="translate(600,337.18) scale(0.89,1)" font-size="8.5" fill="#111" text-anchor="start" dominant-baseline="central">0,0kWh</text><text transform="translate(38.5,347.10) scale(0.89,1)" font-size="8.5" fill="#111" text-anchor="end" dominant-baseline="central">174W</text><text transform="translate(36,360.30) scale(0.89,1)" font-size="8.5" fill="#111" text-anchor="end" dominant-baseline="central">-0,0</text><text transform="translate(236,346.80) scale(0.89,1)" font-size="8.5" fill="#111" text-anchor="start" dominant-baseline="central">174,0</text><text transform="translate(178,429.30) scale(0.89,1)" font-size="8.5" fill="#111" text-anchor="end" dominant-baseline="central">0W</text><text transform="translate(177.5,442.10) scale(0.89,1)" font-size="8.5" fill="#111" text-anchor="end" dominant-baseline="central">-1</text><text transform="translate(286,429.80) scale(0.89,1)" font-size="8.5" fill="#111" text-anchor="start" dominant-baseline="central">0</text><text transform="translate(402,403.30) scale(0.89,1)" font-size="8.5" fill="#111" text-anchor="end" dominant-baseline="central">174</text><text transform="translate(402,420.80) scale(0.89,1)" font-size="8.5" fill="#d43030" text-anchor="end" dominant-baseline="central">Ein</text><text transform="translate(402,433.50) scale(0.89,1)" font-size="8.5" fill="#111" text-anchor="end" dominant-baseline="central">-5</text><text transform="translate(510,403.30) scale(0.89,1)" font-size="8.5" fill="#111" text-anchor="start" dominant-baseline="central">0</text><circle cx="411.5" cy="87.375" r="1.9" fill="#fff" stroke="#111" stroke-width="1.2"/><circle cx="411.5" cy="228.525" r="1.9" fill="#fff" stroke="#111" stroke-width="1.2"/><circle cx="411.5" cy="349.925" r="1.9" fill="#fff" stroke="#111" stroke-width="1.2"/><circle cx="411.8" cy="420.425" r="1.9" fill="#fff" stroke="#111" stroke-width="1.2"/>
</svg>
</body></html>
